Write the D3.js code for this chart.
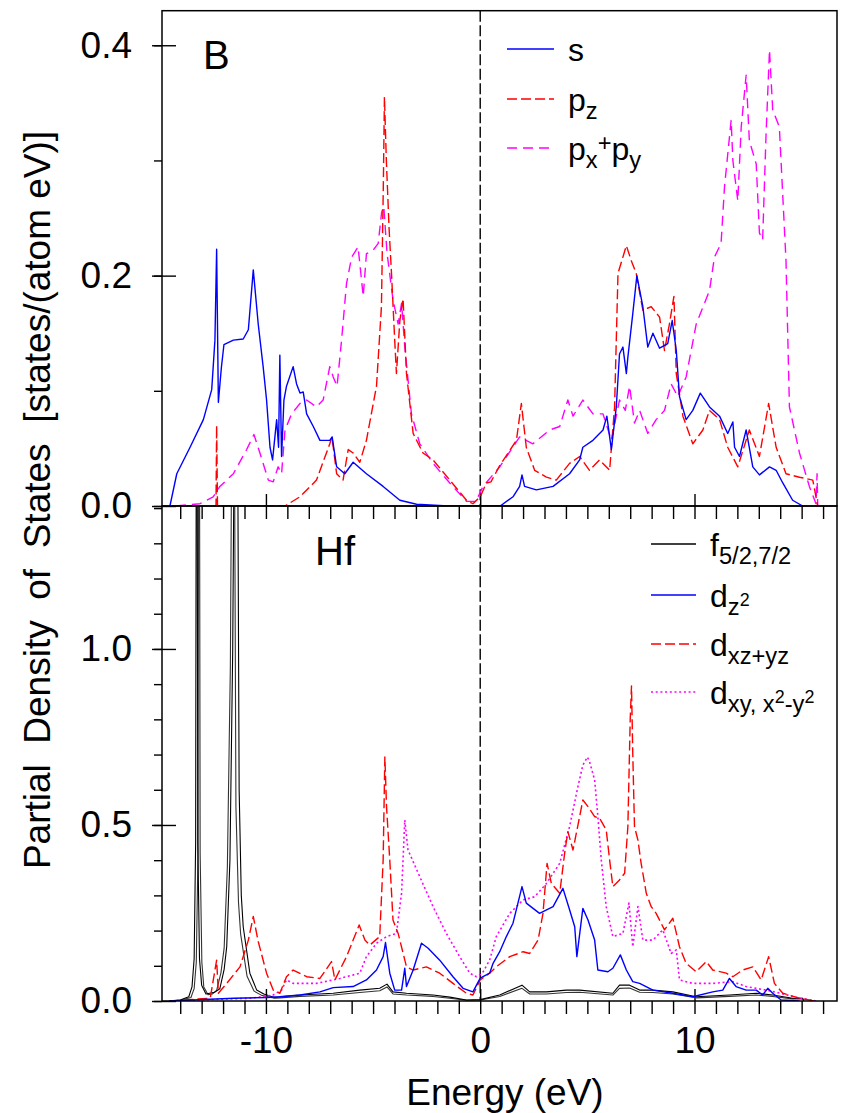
<!DOCTYPE html>
<html>
<head>
<meta charset="utf-8">
<script src="https://cdn.jsdelivr.net/npm/d3@7"></script>
<style>
  body { margin: 0; background: #fff; }
  svg { display: block; font-family: "Liberation Sans", Arial, sans-serif; }
</style>
</head>
<body>
<svg id="chart" width="842" height="1113"></svg>
<script>
// ---- data (energy in eV, DOS in states/(atom eV)) ----
const energyTicks = d3.range(-14, 17);
const energyMajor = [-10, 0, 10];
const topTicks = [0, 0.1, 0.2, 0.3, 0.4];
const topMajor = [0, 0.2, 0.4];
const botTicks = [0, 0.1, 0.2, 0.3, 0.4, 0.5, 0.6, 0.7, 0.8, 0.9, 1.0, 1.1, 1.2, 1.3, 1.4];
const botMajor = [0, 0.5, 1.0];

// B, s
const bS = [[-14.48,0],[-14.16,0.028],[-13.54,0.051],[-12.92,0.075],[-12.53,0.101],[-12.38,0.144],[-12.30,0.223],[-12.22,0.09],[-12.08,0.12],[-11.96,0.140],[-11.52,0.144],[-11.06,0.145],[-10.82,0.153],[-10.59,0.205],[-10.36,0.158],[-10.13,0.121],[-9.97,0.092],[-9.81,0.051],[-9.69,0.040],[-9.50,0.075],[-9.41,0.051],[-9.35,0.131],[-9.27,0.043],[-9.16,0.092],[-9.04,0.104],[-8.73,0.121],[-8.57,0.106],[-8.41,0.098],[-8.26,0.099],[-8.10,0.080],[-7.79,0.069],[-7.48,0.057],[-7.02,0.057],[-6.91,0.060],[-6.70,0.034],[-6.32,0.028],[-5.93,0.038],[-5.31,0.028],[-4.53,0.017],[-3.75,0.005],[-2.97,0.0015],[-1.5,0],[0,0],[0.93,0],[1.53,0.008],[1.84,0.017],[1.95,0.027],[2.07,0.017],[2.62,0.014],[3.40,0.017],[4.17,0.028],[4.64,0.040],[4.79,0.051],[5.26,0.057],[5.73,0.066],[5.91,0.078],[6.12,0.049],[6.35,0.086],[6.50,0.132],[6.66,0.138],[6.82,0.115],[6.89,0.129],[7.12,0.167],[7.31,0.200],[7.59,0.173],[7.82,0.138],[8.06,0.150],[8.37,0.137],[8.75,0.141],[8.96,0.161],[9.15,0.135],[9.30,0.095],[9.61,0.075],[9.92,0.083],[10.27,0.098],[10.70,0.086],[11.17,0.078],[11.55,0.063],[11.79,0.073],[11.87,0.051],[12.10,0.043],[12.41,0.066],[12.72,0.034],[13.03,0.027],[13.50,0.034],[13.81,0.031],[14.12,0.020],[14.58,0.005],[15.05,0]];

// B, p_z
const bPz = [[-12.45,0],[-12.33,0],[-12.30,0.07],[-12.26,0],[-9.11,0],[-8.41,0.008],[-7.64,0.0225],[-7.02,0.054],[-6.92,0.06],[-6.70,0.028],[-6.40,0.0225],[-6.16,0.049],[-5.93,0.046],[-5.62,0.038],[-5.31,0.057],[-4.84,0.104],[-4.61,0.173],[-4.52,0.28],[-4.47,0.355],[-4.38,0.30],[-4.25,0.24],[-4.14,0.202],[-3.99,0.144],[-3.91,0.115],[-3.75,0.161],[-3.60,0.180],[-3.44,0.115],[-3.13,0.063],[-2.67,0.046],[-2.20,0.040],[-1.42,0.0225],[-0.64,0.005],[-0.34,0.002],[0,0.008],[0.29,0.020],[0.5,0.021],[0.91,0.035],[1.69,0.057],[1.92,0.089],[2.15,0.051],[2.54,0.031],[3.09,0.025],[3.55,0.0225],[4.17,0.037],[4.64,0.043],[5.10,0.031],[5.57,0.040],[6.04,0.031],[6.27,0.086],[6.43,0.202],[6.82,0.226],[7.05,0.213],[7.28,0.202],[7.59,0.170],[7.98,0.173],[8.37,0.164],[8.60,0.135],[8.83,0.158],[9.04,0.182],[9.15,0.115],[9.46,0.078],[9.92,0.054],[10.39,0.066],[10.70,0.083],[11.17,0.075],[11.55,0.051],[12.02,0.034],[12.56,0.066],[13.03,0.043],[13.46,0.089],[13.81,0.051],[14.27,0.028],[14.90,0.025],[15.52,0.0225],[15.75,0]];

// B, p_x + p_y
const bPxy = [[-14.2,0],[-13.08,0.002],[-12.46,0.008],[-12.15,0.017],[-11.52,0.028],[-10.90,0.049],[-10.56,0.062],[-10.28,0.046],[-9.89,0.0225],[-9.66,0.021],[-9.43,0.034],[-9.27,0.028],[-9.11,0.066],[-8.80,0.080],[-8.41,0.089],[-8.10,0.092],[-7.64,0.086],[-7.33,0.092],[-7.02,0.121],[-6.86,0.112],[-6.68,0.104],[-6.47,0.144],[-6.24,0.193],[-6.00,0.216],[-5.70,0.225],[-5.46,0.182],[-5.31,0.219],[-5.00,0.222],[-4.76,0.228],[-4.60,0.255],[-4.50,0.26],[-4.35,0.22],[-4.07,0.179],[-3.83,0.158],[-3.67,0.176],[-3.52,0.138],[-3.21,0.080],[-2.82,0.054],[-2.20,0.037],[-1.42,0.020],[-0.64,0.004],[-0.2,0.004],[0.13,0.017],[0.91,0.034],[1.84,0.060],[2.46,0.054],[3.24,0.066],[3.71,0.069],[4.09,0.092],[4.33,0.078],[4.79,0.092],[5.26,0.080],[5.73,0.080],[6.12,0.057],[6.50,0.092],[6.77,0.083],[6.97,0.104],[7.20,0.072],[7.44,0.083],[7.82,0.063],[8.21,0.075],[8.60,0.083],[8.91,0.106],[9.22,0.095],[9.61,0.112],[10.08,0.158],[10.70,0.187],[10.93,0.216],[11.24,0.228],[11.40,0.277],[11.71,0.335],[11.79,0.300],[12.02,0.265],[12.18,0.329],[12.41,0.374],[12.56,0.317],[12.88,0.297],[13.03,0.237],[13.18,0.231],[13.34,0.323],[13.50,0.396],[13.65,0.344],[13.96,0.329],[14.27,0.213],[14.43,0.086],[14.90,0.046],[15.36,0.017],[15.67,0.002],[15.72,0.028],[15.75,0]];

// Hf, f5/2 and f7/2 (two nearly overlapping curves)
const hfF1 = [[-14.5,0],[-14.0,0.003],[-13.6,0.012],[-13.45,0.04],[-13.35,0.12],[-13.28,0.45],[-13.23,2.5],[-13.18,0.45],[-13.10,0.12],[-13.0,0.045],[-12.8,0.02],[-12.4,0.025],[-12.15,0.035],[-11.95,0.09],[-11.83,0.154],[-11.68,0.40],[-11.55,1.0],[-11.38,2.5],[-11.25,0.6],[-11.15,0.30],[-11.06,0.211],[-10.75,0.079],[-10.43,0.031],[-10.1,0.02],[-9.6,0.01],[-9.35,0.012],[-8.41,0.017],[-6.86,0.022],[-5.62,0.031],[-4.69,0.036],[-4.35,0.048],[-4.07,0.026],[-3.44,0.022],[-2.20,0.017],[-1.42,0.011],[-0.64,0.003],[0,0.004],[0.91,0.017],[1.95,0.045],[2.31,0.026],[3.09,0.026],[4.02,0.031],[4.64,0.031],[6.19,0.022],[6.50,0.045],[6.97,0.045],[7.44,0.031],[8.06,0.031],[8.99,0.026],[10.08,0.012],[11.63,0.017],[12.88,0.022],[13.65,0.017],[14.58,0.008],[15.05,0.008],[15.1,0]];
const hfF2 = [[-14.5,0],[-14.0,0.002],[-13.5,0.010],[-13.35,0.035],[-13.25,0.11],[-13.17,0.42],[-13.12,2.4],[-13.07,0.42],[-12.99,0.11],[-12.9,0.04],[-12.7,0.018],[-12.5,0.02],[-12.3,0.03],[-12.1,0.08],[-11.95,0.15],[-11.80,0.38],[-11.66,0.95],[-11.52,2.4],[-11.40,0.55],[-11.28,0.28],[-11.18,0.19],[-10.88,0.07],[-10.55,0.028],[-10.2,0.016],[-9.6,0.008],[-9.35,0.009],[-8.41,0.013],[-6.86,0.017],[-5.62,0.024],[-4.69,0.029],[-4.35,0.040],[-4.07,0.020],[-3.44,0.017],[-2.20,0.013],[-1.42,0.008],[-0.64,0.002],[0,0.003],[0.91,0.013],[1.95,0.036],[2.31,0.020],[3.09,0.020],[4.02,0.024],[4.64,0.025],[6.19,0.017],[6.50,0.036],[6.97,0.037],[7.44,0.025],[8.06,0.024],[8.99,0.020],[10.08,0.009],[11.63,0.013],[12.88,0.017],[13.65,0.013],[14.58,0.006],[15.05,0.006],[15.1,0]];

// Hf, d_z2
const hfDz2 = [[-14.5,0],[-11.5,0.008],[-9.97,0.010],[-9.35,0.012],[-8.41,0.017],[-7.48,0.026],[-6.86,0.038],[-5.93,0.041],[-5.31,0.060],[-4.84,0.088],[-4.53,0.126],[-4.42,0.166],[-4.22,0.079],[-3.99,0.031],[-3.67,0.031],[-3.52,0.093],[-3.44,0.041],[-3.13,0.088],[-2.74,0.164],[-2.43,0.150],[-1.89,0.116],[-1.27,0.069],[-0.80,0.036],[-0.34,0.026],[0,0.065],[0.44,0.079],[0.60,0.107],[0.91,0.14],[1.22,0.183],[1.53,0.221],[1.95,0.325],[2.15,0.278],[2.77,0.249],[3.40,0.268],[3.86,0.320],[4.17,0.259],[4.41,0.211],[4.51,0.126],[4.79,0.263],[5.03,0.230],[5.34,0.173],[5.49,0.088],[5.96,0.083],[6.19,0.093],[6.54,0.131],[6.82,0.088],[7.12,0.055],[7.44,0.050],[8.06,0.031],[8.99,0.022],[9.92,0.012],[10.85,0.026],[11.32,0.031],[11.63,0.064],[11.94,0.041],[12.41,0.031],[12.88,0.031],[13.18,0.017],[13.42,0.036],[13.65,0.022],[14.04,0.003],[14.9,0]];

// Hf, d_xz+yz
const hfDxz = [[-14.5,0],[-12.6,0.008],[-12.30,0.116],[-12.22,0.022],[-11.83,0.050],[-11.21,0.097],[-10.82,0.173],[-10.59,0.240],[-10.36,0.169],[-9.97,0.079],[-9.66,0.031],[-9.35,0.022],[-9.04,0.069],[-8.73,0.088],[-8.10,0.069],[-7.48,0.064],[-6.94,0.112],[-6.78,0.060],[-6.24,0.126],[-5.93,0.173],[-5.65,0.216],[-5.38,0.173],[-5.15,0.159],[-4.69,0.183],[-4.53,0.400],[-4.45,0.693],[-4.37,0.55],[-4.22,0.400],[-4.07,0.230],[-3.83,0.192],[-3.44,0.097],[-3.13,0.088],[-2.51,0.097],[-1.89,0.079],[-1.27,0.050],[-0.64,0.022],[-0.34,0.017],[0,0.06],[0.44,0.079],[0.75,0.097],[1.38,0.126],[2.0,0.140],[2.31,0.135],[2.70,0.173],[2.93,0.249],[3.12,0.391],[3.32,0.334],[3.71,0.306],[3.94,0.420],[4.09,0.481],[4.33,0.429],[4.64,0.524],[4.79,0.571],[5.03,0.552],[5.34,0.524],[5.57,0.519],[5.88,0.486],[6.04,0.400],[6.19,0.325],[6.50,0.344],[6.74,0.363],[6.89,0.495],[7.0,0.80],[7.06,0.895],[7.12,0.70],[7.20,0.495],[7.36,0.457],[7.51,0.391],[7.75,0.306],[7.98,0.268],[8.21,0.249],[8.60,0.202],[8.99,0.235],[9.30,0.154],[9.61,0.107],[10.08,0.083],[10.55,0.112],[10.85,0.088],[11.48,0.079],[11.79,0.069],[12.25,0.088],[12.72,0.097],[13.11,0.060],[13.46,0.126],[13.73,0.050],[14.12,0.022],[14.9,0.008],[15.6,0]];

// Hf, d_xy, x2-y2
const hfDxy = [[-14.5,0],[-10.7,0.008],[-9.66,0.017],[-9.27,0.031],[-9.04,0.060],[-8.73,0.050],[-7.64,0.050],[-6.55,0.064],[-5.62,0.079],[-5.31,0.126],[-4.84,0.164],[-4.37,0.183],[-3.91,0.192],[-3.67,0.306],[-3.52,0.514],[-3.37,0.429],[-2.82,0.353],[-2.20,0.268],[-1.58,0.192],[-0.96,0.126],[-0.49,0.079],[-0.18,0.069],[0.1,0.079],[0.44,0.116],[0.75,0.183],[1.38,0.249],[2.0,0.287],[2.54,0.296],[3.09,0.334],[3.71,0.391],[4.17,0.495],[4.56,0.609],[4.79,0.670],[5.0,0.693],[5.10,0.680],[5.34,0.628],[5.49,0.524],[5.65,0.400],[5.88,0.268],[6.19,0.183],[6.66,0.192],[6.94,0.278],[7.12,0.154],[7.36,0.268],[7.59,0.173],[8.06,0.173],[8.52,0.202],[8.91,0.135],[9.15,0.145],[9.30,0.060],[9.92,0.050],[10.85,0.050],[11.79,0.055],[12.41,0.041],[13.34,0.031],[14.0,0.022],[14.9,0.008],[15.7,0]];

// ---- layout ----
const svg = d3.select("#chart");
const left = 162, right = 837, topY = 10.7, midY = 506, botY = 1001;

const x = d3.scaleLinear().domain([-14.85, 16.65]).range([left, right]);
const yTop = d3.scaleLinear().domain([0, 0.43]).range([midY, topY]);
const yBot = d3.scaleLinear().domain([0, 1.406]).range([botY, midY]);

const TICK_FONT = 37;

// clip each panel
const defs = svg.append("defs");
defs.append("clipPath").attr("id", "clipTop").append("rect")
    .attr("x", left).attr("y", topY).attr("width", right - left).attr("height", midY - topY);
defs.append("clipPath").attr("id", "clipBot").append("rect")
    .attr("x", left).attr("y", midY).attr("width", right - left).attr("height", botY - midY);

function axes(y, yTicks, yMajor, showX) {
    const y0 = y.range()[0];
    // minor energy ticks, pointing down
    const gx = svg.append("g").attr("transform", `translate(0,${y0})`)
        .call(d3.axisBottom(x).tickValues(energyTicks).tickSize(13).tickSizeOuter(0).tickFormat(""));
    gx.select(".domain").remove();
    // major energy ticks, pointing up (with labels on the lower panel)
    const gm = svg.append("g").attr("transform", `translate(0,${y0})`)
        .call(d3.axisBottom(x).tickValues(energyMajor).tickSize(-12).tickSizeOuter(0).tickPadding(26)
            .tickFormat(showX ? (d => String(d)) : ""));
    gm.select(".domain").remove();
    // left: minor outward, major crossing
    const gy = svg.append("g").attr("transform", `translate(${left},0)`)
        .call(d3.axisLeft(y).tickValues(yTicks).tickSize(8).tickSizeOuter(0).tickFormat(""));
    gy.select(".domain").remove();
    const gyi = svg.append("g").attr("transform", `translate(${left},0)`)
        .call(d3.axisLeft(y).tickValues(yMajor).tickSize(-14).tickSizeOuter(0).tickFormat(""));
    gyi.select(".domain").remove();
    const gyl = svg.append("g").attr("transform", `translate(${left},0)`)
        .call(d3.axisLeft(y).tickValues(yMajor).tickSize(10).tickSizeOuter(0).tickPadding(20)
            .tickFormat(d3.format(".1f")));
    gyl.select(".domain").remove();
    [gx, gm, gy, gyi, gyl].forEach(g => {
        g.attr("font-family", null).attr("font-size", null);
        g.selectAll("line").attr("stroke", "#000").attr("stroke-width", 1.4);
        g.selectAll("text").attr("fill", "#000").style("font-size", TICK_FONT + "px");
    });
}

axes(yTop, topTicks, topMajor, false);
axes(yBot, botTicks, botMajor, true);

// Fermi level
svg.append("line")
    .attr("x1", x(0)).attr("x2", x(0)).attr("y1", topY).attr("y2", botY)
    .attr("stroke", "#000").attr("stroke-width", 1.4).attr("stroke-dasharray", "11,3.5");

// curves
function curve(data, y, clip, color, dash, w) {
    const line = d3.line().x(d => x(d[0])).y(d => y(d[1]));
    svg.append("path").datum(data)
        .attr("clip-path", `url(#${clip})`)
        .attr("fill", "none").attr("stroke", color).attr("stroke-width", w || 1.4)
        .attr("stroke-linejoin", "round")
        .attr("stroke-dasharray", dash)
        .attr("d", line);
}

curve(bPxy, yTop, "clipTop", "#ff00ff", "10,6");
curve(bPz, yTop, "clipTop", "#ff0000", "10,4");
curve(bS, yTop, "clipTop", "#0000ff", null);

curve(hfF2, yBot, "clipBot", "#333", null, 1.1);
curve(hfF1, yBot, "clipBot", "#000", null, 1.1);
curve(hfDxy, yBot, "clipBot", "#ff00ff", "2,2.7", 1.6);
curve(hfDxz, yBot, "clipBot", "#ff0000", "10,4");
curve(hfDz2, yBot, "clipBot", "#0000ff", null);

// frames
[[topY, midY], [midY, botY]].forEach(([a, b]) => {
    svg.append("rect").attr("x", left).attr("y", a).attr("width", right - left).attr("height", b - a)
        .attr("fill", "none").attr("stroke", "#000").attr("stroke-width", 1.5);
});

// panel labels
svg.append("text").attr("x", 203).attr("y", 69).style("font-size", "40px").text("B");
svg.append("text").attr("x", 315).attr("y", 565).style("font-size", "40px").text("Hf");

// legends: each label is a list of [text, level] with level 0 normal, 1 sub, 2 sup-on-sub, -1 sup
function richText(sel, parts, size) {
    const small = size * 0.74, tiny = size * 0.56;
    let cur = 0;
    const off = { 0: 0, 1: size * 0.26, 2: -size * 0.04, "-1": -size * 0.28 };
    parts.forEach(([t, lvl]) => {
        const fs = lvl === 0 ? size : (lvl === 2 ? tiny : small);
        sel.append("tspan").attr("dy", off[lvl] - cur).style("font-size", fs + "px").text(t);
        cur = off[lvl];
    });
}

function legend(items, x1, x2, tx, rows, size) {
    items.forEach((it, i) => {
        const yy = rows[i];
        svg.append("line").attr("x1", x1).attr("x2", x2).attr("y1", yy).attr("y2", yy)
            .attr("stroke", it.color).attr("stroke-width", it.w || 1.4).attr("stroke-dasharray", it.dash);
        const t = svg.append("text").attr("x", tx).attr("y", yy + 12).style("font-size", size + "px");
        richText(t, it.label, size);
    });
}

legend([
    { color: "#0000ff", dash: null, label: [["s", 0]] },
    { color: "#ff0000", dash: "10,4", label: [["p", 0], ["z", 1]] },
    { color: "#ff00ff", dash: "10,6", label: [["p", 0], ["x", 1], ["+", -1], ["p", 0], ["y", 1]] }
], 507, 554, 568, [49, 99, 148], 32);

legend([
    { color: "#000", dash: null, label: [["f", 0], ["5/2,7/2", 1]] },
    { color: "#0000ff", dash: null, label: [["d", 0], ["z", 1], ["2", 2]] },
    { color: "#ff0000", dash: "10,4", label: [["d", 0], ["xz+yz", 1]] },
    { color: "#ff00ff", dash: "2,2.7", w: 1.6, label: [["d", 0], ["xy, x", 1], ["2", 2], ["-y", 1], ["2", 2]] }
], 651, 696, 710, [544, 595, 644, 692], 32);

// axis titles
svg.append("text").attr("x", 505).attr("y", 1105).attr("text-anchor", "middle")
    .style("font-size", "37px").text("Energy (eV)");
svg.append("text").attr("transform", "translate(50,500) rotate(-90)").attr("text-anchor", "middle")
    .style("font-size", "37px")
    .text("Partial\u00a0\u00a0Density\u00a0\u00a0of\u00a0\u00a0States\u00a0\u00a0[states/(atom\u00a0eV)]");
</script>
</body>
</html>
